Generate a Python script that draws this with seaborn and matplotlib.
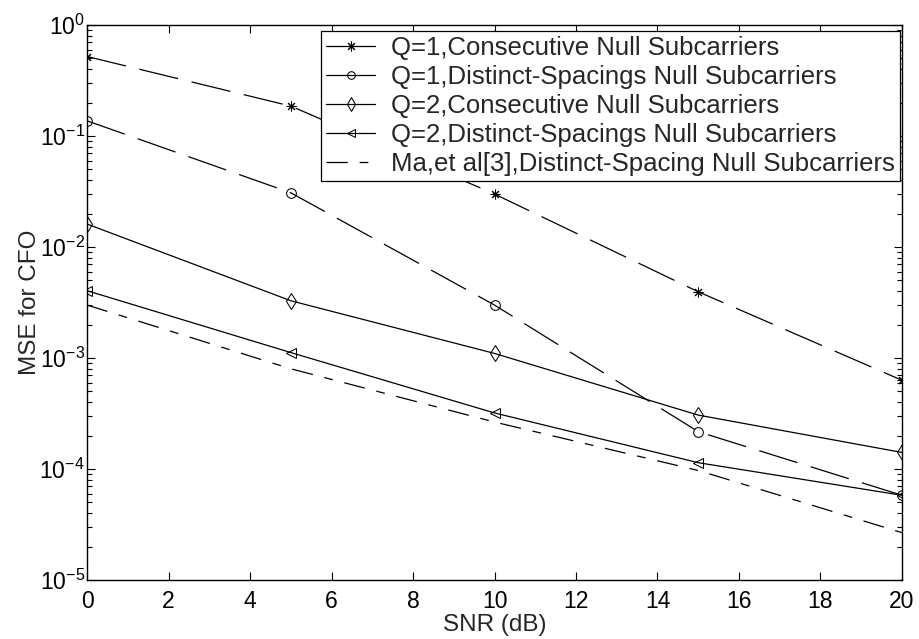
import matplotlib
matplotlib.use("Agg")
import matplotlib.pyplot as plt
from matplotlib.lines import Line2D
from matplotlib.ticker import LogLocator, MultipleLocator, NullFormatter
import seaborn as sns
import pandas as pd

# SNR sweep and simulated CFO mean-squared error
snr_db = [0, 5, 10, 15, 20]
q1_consecutive = [0.52, 0.186, 0.030, 0.00395, 0.00063]
q1_distinct = [0.137, 0.0308, 0.0030, 0.000217, 0.000058]
q2_consecutive = [0.0161, 0.00328, 0.0011, 0.000306, 0.000141]
q2_distinct = [0.00404, 0.00112, 0.00032, 0.000114, 0.000058]
ma_distinct = [0.0030, 0.00080, 0.000265, 0.000097, 0.0000267]

labels = [
    "Q=1,Consecutive Null Subcarriers",
    "Q=1,Distinct-Spacings Null Subcarriers",
    "Q=2,Consecutive Null Subcarriers",
    "Q=2,Distinct-Spacings Null Subcarriers",
    "Ma,et al[3],Distinct-Spacing Null Subcarriers",
]

sns.set_style("ticks")
plt.rcParams["font.family"] = ["Liberation Sans", "DejaVu Sans"]
plt.rcParams["mathtext.fontset"] = "custom"
plt.rcParams["mathtext.rm"] = "Liberation Sans"
plt.rcParams["mathtext.it"] = "Liberation Sans"
plt.rcParams["axes.unicode_minus"] = False

fig = plt.figure(figsize=(9.2, 6.39), dpi=100)
ax = fig.add_axes([0.0946, 0.0923, 0.8858, 0.8686])

dashed = (0, (32, 11))
dashdot = (0, (17, 9.5, 7, 9.5))
asterisk = (8, 2, 0)

series = [
    (q1_consecutive, asterisk, dashed, 7),
    (q1_distinct, "o", dashed, 7),
    (q2_consecutive, "d", "-", 8),
    (q2_distinct, "<", "-", 7),
    (ma_distinct, None, dashdot, 0),
]

for (vals, mk, ls, ms), lab in zip(series, labels):
    df = pd.DataFrame({"snr": snr_db, "mse": vals})
    kw = dict(color="black", linewidth=0.9, linestyle=ls)
    if mk is not None:
        kw.update(marker=mk, markersize=ms, markerfacecolor="none",
                  markeredgecolor="black", markeredgewidth=0.75)
    sns.lineplot(data=df, x="snr", y="mse", ax=ax, legend=False, **kw)

ax.set_yscale("log")
ax.set_xlim(0, 20)
ax.set_ylim(1e-5, 1)
ax.xaxis.set_major_locator(MultipleLocator(2))
ax.yaxis.set_major_locator(LogLocator(base=10, numticks=10))
ax.yaxis.set_minor_locator(LogLocator(base=10, subs=range(2, 10), numticks=10))
ax.yaxis.set_minor_formatter(NullFormatter())

ax.tick_params(which="both", direction="in", top=True, right=True,
               labelsize=16.5, width=0.8, colors="black")
ax.tick_params(which="major", length=6)
ax.tick_params(axis="x", which="major", pad=7)
ax.tick_params(axis="y", which="major", pad=1.5)
ax.tick_params(which="minor", length=3.5)
ax.tick_params(axis="x", which="minor", top=False, bottom=False)
for sp in ax.spines.values():
    sp.set_visible(True)
    sp.set_linewidth(1.0)
    sp.set_color("black")

ax.set_xlabel("SNR (dB)", fontsize=17.5, labelpad=1)
ax.set_ylabel("MSE for CFO", fontsize=17.5, labelpad=-1)

handles = [
    Line2D([], [], color="black", lw=0.9, marker=asterisk, ms=7, mfc="none", mec="black", mew=0.75),
    Line2D([], [], color="black", lw=0.9, marker="o", ms=5.5, mfc="none", mec="black", mew=0.75),
    Line2D([], [], color="black", lw=0.9, marker="d", ms=7, mfc="none", mec="black", mew=0.75),
    Line2D([], [], color="black", lw=0.9, marker="<", ms=6, mfc="none", mec="black", mew=0.75),
    Line2D([], [], color="black", lw=0.9, linestyle=dashdot),
]
leg = ax.legend(handles, labels, loc="upper right", bbox_to_anchor=(0.997, 0.99),
                borderaxespad=0, fontsize=18.5, frameon=True, fancybox=False,
                edgecolor="black", framealpha=1, handlelength=1.9,
                labelspacing=0.2, borderpad=0.2, handletextpad=0.6)
leg.get_frame().set_linewidth(0.9)

fig.savefig("out.png", dpi=100)
